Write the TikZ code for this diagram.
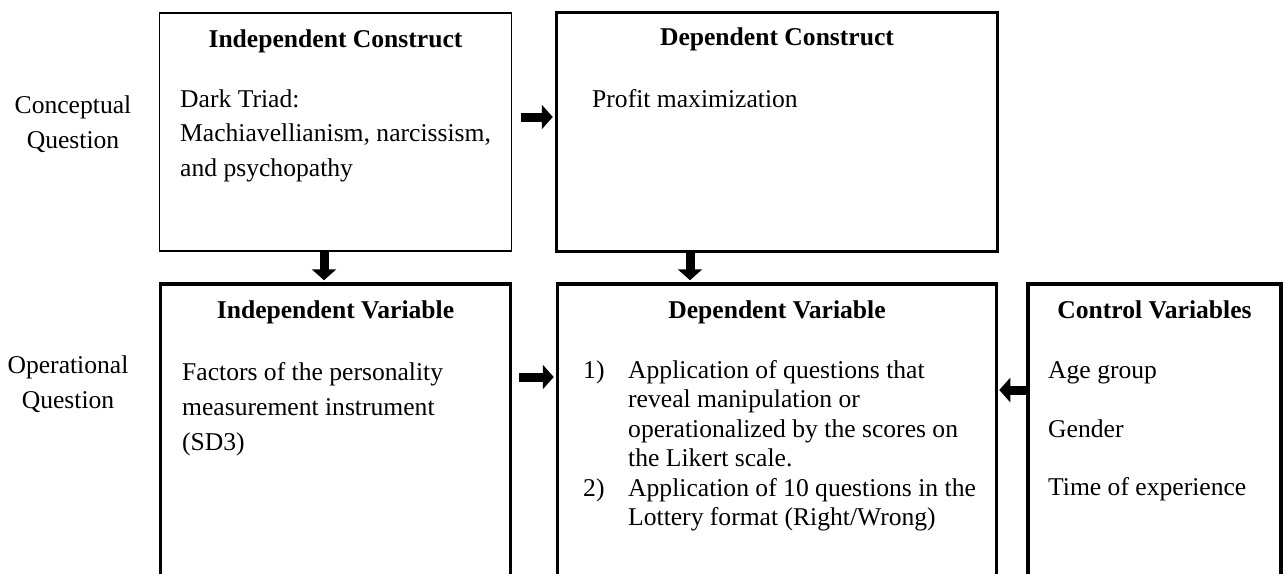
\documentclass[tikz,border=0pt]{standalone}
\usepackage{fontspec}
\setmainfont{Liberation Serif}
\usetikzlibrary{arrows.meta, positioning}

\tikzset{
  box/.style={draw, rectangle, line width=3.5pt, inner sep=0pt},
  thinbox/.style={draw, rectangle, line width=1.8pt, inner sep=0pt},
  txt/.style={font=\fontsize{25.6}{29.5}\selectfont, inner sep=0pt, anchor=base west},
  head/.style={txt, font=\fontsize{25.6}{29.5}\selectfont\bfseries, anchor=base},
  side/.style={txt, anchor=base},
  bigarrow/.style={line width=9pt, -{Triangle[length=11pt, width=24pt]}},
}

\begin{document}
\begin{tikzpicture}[x=1pt, y=-1pt]
  \useasboundingbox (0,0) rectangle (1285,573);
  \clip (0,0) rectangle (1285,573);

  % Row labels
  \node[side] (cq1) at (73,113) {Conceptual};
  \node[side] (cq2) at (73,148) {Question};
  \node[side] (oq1) at (68,373) {Operational};
  \node[side] (oq2) at (68,408) {Question};

  % Conceptual row
  \node[thinbox, minimum width=352pt, minimum height=238pt] (ic) at (335.5,132) {};
  \node[box, minimum width=441pt, minimum height=239pt] (dc) at (777,132) {};

  \node[head] (ic-t) at ([yshift=-35pt]ic.north) {Independent Construct};
  \node[txt] (ic-1) at (180,107) {Dark Triad:};
  \node[txt] (ic-2) at (180,141.5) {Machiavellianism, narcissism,};
  \node[txt] (ic-3) at (180,176) {and psychopathy};

  \node[head] (dc-t) at ([yshift=-35pt]dc.north) {Dependent Construct};
  \node[txt] (dc-1) at (592,107) {Profit maximization};

  % Operational row
  \node[box, minimum width=350pt, minimum height=316pt] (iv) at (335.5,442) {};
  \node[box, minimum width=439pt, minimum height=316pt] (dv) at (777,442) {};
  \node[box, minimum width=253pt, minimum height=316pt] (cv) at (1154.5,442) {};

  \node[head] (iv-t) at ([yshift=-36pt]iv.north) {Independent Variable};
  \node[txt] (iv-1) at (182,380) {Factors of the personality};
  \node[txt] (iv-2) at (182,415) {measurement instrument};
  \node[txt] (iv-3) at (182,450) {(SD3)};

  \node[head] (dv-t) at ([yshift=-36pt]dv.north) {Dependent Variable};
  \node[txt] (dv-n1) at (583,378) {1)};
  \node[txt] (dv-1) at (628,378) {Application of questions that};
  \node[txt] (dv-2) at (628,407.5) {reveal manipulation or};
  \node[txt] (dv-3) at (628,437) {operationalized by the scores on};
  \node[txt] (dv-4) at (628,466.5) {the Likert scale.};
  \node[txt] (dv-n2) at (583,496) {2)};
  \node[txt] (dv-5) at (628,496) {Application of 10 questions in the};
  \node[txt] (dv-6) at (628,525.5) {Lottery format (Right/Wrong)};

  \node[head] (cv-t) at ([yshift=-36pt]cv.north) {Control Variables};
  \node[txt] (cv-1) at (1048,378) {Age group};
  \node[txt] (cv-2) at (1048,437) {Gender};
  \node[txt] (cv-3) at (1048,495) {Time of experience};

  % Arrows
  \draw[bigarrow, shorten <=9pt, shorten >=2pt] ([yshift=15pt]ic.east) -- ([yshift=15pt]dc.west);
  \draw[bigarrow, shorten >=2pt] ([xshift=-11.5pt]ic.south) -- ([xshift=-11.5pt]iv.north);
  \draw[bigarrow, shorten >=2pt] ([xshift=-87pt]dc.south) -- ([xshift=-87pt]dv.north);
  \draw[bigarrow, shorten <=7pt, shorten >=2pt] ([yshift=65pt]iv.east) -- ([yshift=65pt]dv.west);
  \draw[bigarrow, shorten >=1pt] ([yshift=52pt]cv.west) -- ([yshift=52pt]dv.east);
\end{tikzpicture}
\end{document}
